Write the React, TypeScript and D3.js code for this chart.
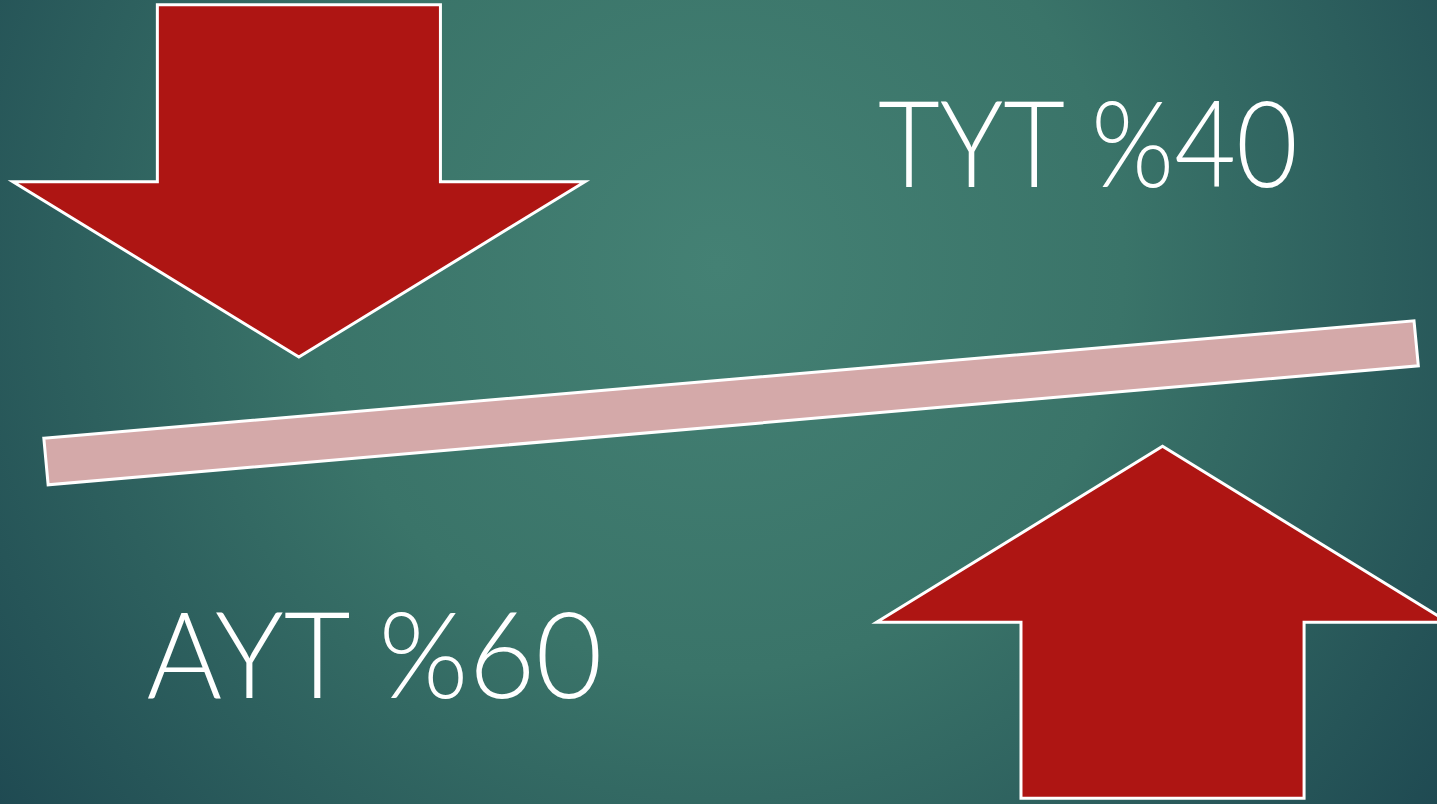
import React, {useRef, useEffect} from "react";
import * as d3 from "d3";

const W = 1437;
const H = 804;

// exam shares
const exams = ["TYT", "AYT"];
const shares = [40, 60];
const directions = ["down", "up"];

// arrow anchors in slide units (0..100 across, 0..100 down)
const arrowCenters = [20.8, 80.9];
const arrowTips = [44.4, 55.5];
const arrowEnds = [0.6, 99.3];
const labelX = [61.1, 10.2];
const labelY = [23.3, 86.8];

export default function App() {
  const svgRef = useRef<SVGSVGElement>(null);

  useEffect(() => {
    const svg = d3.select(svgRef.current);
    svg.selectAll("*").remove();

    const x = d3.scaleLinear().domain([0, 100]).range([0, W]);
    const y = d3.scaleLinear().domain([0, 100]).range([0, H]);

    const defs = svg.append("defs");
    const grad = defs
      .append("radialGradient")
      .attr("id", "bg")
      .attr("gradientUnits", "userSpaceOnUse")
      .attr("cx", x(50))
      .attr("cy", y(33))
      .attr("r", 900);
    grad.append("stop").attr("offset", "0%").attr("stop-color", "#448174");
    grad.append("stop").attr("offset", "45%").attr("stop-color", "#3a7469");
    grad.append("stop").attr("offset", "100%").attr("stop-color", "#1f4a52");

    svg
      .append("rect")
      .attr("width", W)
      .attr("height", H)
      .attr("fill", "url(#bg)");

    const line = d3.line();

    // arrows
    const headHalf = 19.9;
    const shaftHalf = 9.85;
    exams.forEach((_, i) => {
      const cx = arrowCenters[i];
      const tip = arrowTips[i];
      const end = arrowEnds[i];
      const shoulder = directions[i] === "down" ? 22.6 : 77.4;
      const pts: [number, number][] = [
        [cx - shaftHalf, end],
        [cx + shaftHalf, end],
        [cx + shaftHalf, shoulder],
        [cx + headHalf, shoulder],
        [cx, tip],
        [cx - headHalf, shoulder],
        [cx - shaftHalf, shoulder],
      ].map(([a, b]) => [x(a), y(b)]);
      svg
        .append("path")
        .attr("d", line(pts) + "Z")
        .attr("fill", "#ae1513")
        .attr("stroke", "#ffffff")
        .attr("stroke-width", 3);
    });

    // balance beam, tilted by the share gap
    const tilt = d3.scaleLinear().domain([0, 100]).range([0, 73]);
    const gap = tilt(shares[1] - shares[0]);
    const beam: [number, number][] = [
      [3.05, 54.5],
      [98.4, 54.5 - gap],
      [98.7, 54.5 - gap + 5.6],
      [3.35, 60.3],
    ].map(([a, b]) => [x(a), y(b)]);
    svg
      .append("path")
      .attr("d", line(beam) + "Z")
      .attr("fill", "#d4a9a9")
      .attr("stroke", "#ffffff")
      .attr("stroke-width", 3);

    // labels
    exams.forEach((name, i) => {
      svg
        .append("text")
        .attr("x", x(labelX[i]))
        .attr("y", y(labelY[i]))
        .attr("fill", "#ffffff")
        .style("font-family", "Lato, sans-serif")
        .style("font-weight", 300)
        .style("font-size", "120px")
        .attr("textLength", i === 0 ? 420 : 456)
        .attr("lengthAdjust", "spacingAndGlyphs")
        .text(`${name} %${shares[i]}`);
    });
  }, []);

  return (
    <svg
      ref={svgRef}
      width={W}
      height={H}
      style={{position: "absolute", left: 0, top: 0, display: "block"}}
    />
  );
}
